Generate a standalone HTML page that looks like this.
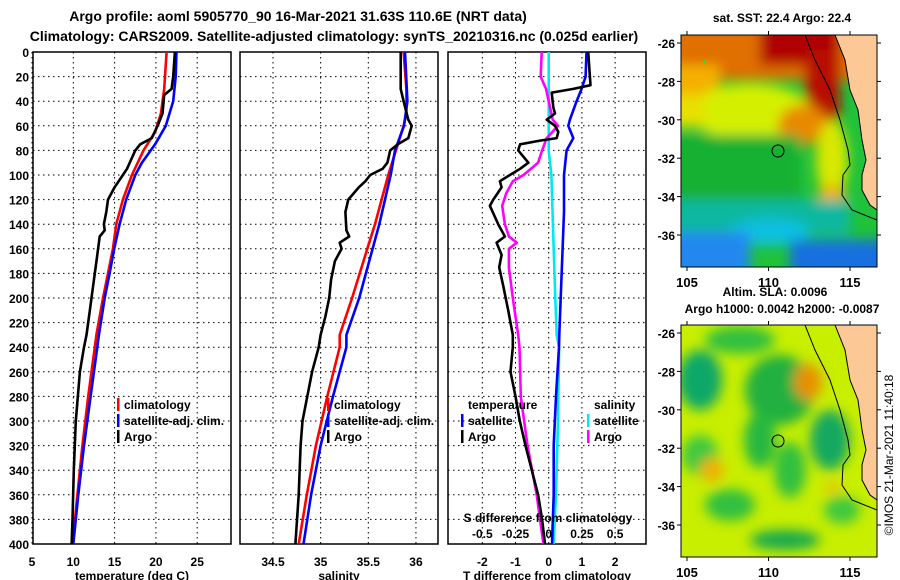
<!DOCTYPE html>
<html><head><meta charset="utf-8">
<style>
html,body{margin:0;padding:0;background:#fff;}
svg{display:block;font-family:"Liberation Sans",Arial,sans-serif;font-weight:bold;}
</style></head>
<body>
<svg id="fig" width="900" height="580" viewBox="0 0 900 580" xmlns="http://www.w3.org/2000/svg">
<defs>
<filter id="blur6" x="-20%" y="-20%" width="140%" height="140%"><feGaussianBlur stdDeviation="6"/></filter>
<clipPath id="clipTop"><rect x="681" y="35" width="196" height="232"/></clipPath>
<clipPath id="clipBot"><rect x="681" y="325" width="196" height="232"/></clipPath>
</defs>
<text x="298" y="21" font-size="14" text-anchor="middle">Argo profile: aoml 5905770_90 16-Mar-2021 31.63S 110.6E (NRT data)</text>
<text x="334" y="41" font-size="14" text-anchor="middle">Climatology: CARS2009. Satellite-adjusted climatology: synTS_20210316.nc (0.025d earlier)</text>

<!-- top map -->
<g clip-path="url(#clipTop)">
<rect x="681" y="35" width="196" height="232" fill="#20c23a"/>
<g filter="url(#blur6)">
<rect x="660" y="15" width="240" height="65" fill="#e07000"/>
<rect x="760" y="15" width="80" height="50" fill="#b00000"/>
<rect x="805" y="50" width="35" height="70" fill="#b81000"/>
<rect x="660" y="65" width="60" height="40" fill="#f4b000"/>
<ellipse cx="750" cy="112" rx="62" ry="28" fill="#d4f000"/>
<rect x="660" y="95" width="45" height="32" fill="#e8e000"/>
<ellipse cx="803" cy="125" rx="25" ry="20" fill="#e88a00"/>
<ellipse cx="832" cy="160" rx="16" ry="40" fill="#d8e800"/>
<ellipse cx="832" cy="200" rx="14" ry="16" fill="#f0b000"/>
<rect x="660" y="135" width="140" height="70" fill="#18b030"/>
<rect x="660" y="200" width="190" height="35" fill="#10b8a0"/>
<ellipse cx="770" cy="232" rx="40" ry="14" fill="#10c0e0"/>
<rect x="660" y="232" width="90" height="50" fill="#2088f0"/>
<rect x="790" y="240" width="100" height="40" fill="#1870e0"/>
</g>
<rect x="703" y="60" width="3" height="3" fill="#30e030"/>
<polygon points="835,35 845,60 850,90 858,110 862,140 866,160 862,175 862,190 870,205 877,210 877,35" fill="#fcc896"/>
<polyline points="805,35 815,60 830,90 840,120 848,150 850,165 843,175 842,195 852,210 877,220" fill="none" stroke="#000" stroke-width="1"/>
<polyline points="835,35 845,60 850,90 858,110 862,140 866,160 862,175 862,190 870,205 877,210" fill="none" stroke="#000" stroke-width="1"/>
<circle cx="778" cy="151" r="6" fill="none" stroke="#000" stroke-width="1"/>
</g>
<rect x="681" y="35" width="196" height="232" fill="none" stroke="#000" stroke-width="1"/>
<text x="782" y="22" font-size="12" text-anchor="middle">sat. SST: 22.4 Argo: 22.4</text>

<!-- bottom map -->
<g clip-path="url(#clipBot)">
<rect x="681" y="325" width="196" height="232" fill="#c8ee00"/>
<g filter="url(#blur6)">
<ellipse cx="740" cy="340" rx="35" ry="14" fill="#30c040"/>
<ellipse cx="700" cy="380" rx="22" ry="30" fill="#10a868"/>
<ellipse cx="780" cy="390" rx="35" ry="35" fill="#20b040"/>
<ellipse cx="760" cy="440" rx="16" ry="28" fill="#28b840"/>
<ellipse cx="790" cy="470" rx="16" ry="28" fill="#30c040"/>
<ellipse cx="830" cy="440" rx="20" ry="30" fill="#18a860"/>
<ellipse cx="700" cy="455" rx="18" ry="20" fill="#40c840"/>
<ellipse cx="730" cy="505" rx="25" ry="16" fill="#30c040"/>
<ellipse cx="785" cy="540" rx="35" ry="10" fill="#18a850"/>
<ellipse cx="842" cy="510" rx="18" ry="14" fill="#40c840"/>
<ellipse cx="808" cy="382" rx="14" ry="18" fill="#e89000"/>
<ellipse cx="712" cy="470" rx="12" ry="12" fill="#f0b000"/>
<ellipse cx="833" cy="488" rx="8" ry="6" fill="#f0c000"/>
</g>
<polygon points="835,325 845,350 850,380 858,400 862,430 866,450 862,465 862,480 870,495 877,500 877,325" fill="#fcc896"/>
<polyline points="805,325 815,350 830,380 840,410 848,440 850,455 843,465 842,485 852,500 877,510" fill="none" stroke="#000" stroke-width="1"/>
<polyline points="835,325 845,350 850,380 858,400 862,430 866,450 862,465 862,480 870,495 877,500" fill="none" stroke="#000" stroke-width="1"/>
<circle cx="778" cy="441" r="6" fill="none" stroke="#000" stroke-width="1"/>
</g>
<rect x="681" y="325" width="196" height="232" fill="none" stroke="#000" stroke-width="1"/>
<text x="775" y="296" font-size="12" text-anchor="middle">Altim. SLA: 0.0096</text>
<text x="782" y="313" font-size="12" text-anchor="middle">Argo h1000: 0.0042 h2000: -0.0087</text>
<text x="0" y="0" font-size="12" font-weight="normal" text-anchor="middle" transform="translate(893,455) rotate(-90)">©IMOS 21-Mar-2021 11:40:18</text>
<g id="maps-axes"></g>
<g id="panels"></g>
</svg>
<script>
// ---------- data ----------
const depthTick = [0,20,40,60,80,100,120,140,160,180,200,220,240,260,280,300,320,340,360,380,400];
const tempTicks = [5,10,15,20,25];
const salTicks = [34.5,35,35.5,36];
const tdiffTicks = [-2,-1,0,1,2];
const sdiffTicks = [-0.5,-0.25,0,0.25,0.5];
const sdiffTickLabels = ["-0.5","-0.25","0","0.25","0.5"];
const latTicks = [-26,-28,-30,-32,-34,-36];
const lonTicks = [105,110,115];

const argoTDepth = [0,20,30,35,50,60,70,75,80,95,100,110,120,130,140,145,150,165,180,200,220,230,240,260,300,340,380,400];
const argoT =      [22.3,22.1,21.9,21.0,20.8,20.2,19.5,18.1,17.5,16.5,16.0,15.0,14.2,14.0,13.7,13.8,13.2,12.9,12.6,12.2,11.8,11.6,11.3,10.8,10.3,10.06,9.9,9.8];
const climTDepth = [0,30,50,65,80,100,120,140,160,180,200,230,240,280,320,360,400];
const climT =      [21.3,21.0,20.6,19.9,18.5,17.1,16.0,15.2,14.8,14.2,13.6,12.8,12.6,11.8,11.1,10.5,9.9];
const satTDepth =  [0,20,40,60,75,90,100,120,140,160,180,200,230,240,280,320,360,400];
const satT =       [22.5,22.4,22.1,21.2,19.9,18.3,17.5,16.4,15.6,14.95,14.4,13.8,13.1,12.9,12.1,11.3,10.6,10.0];

const argoSDepth = [0,30,40,55,60,70,75,80,90,95,100,105,110,120,130,145,150,155,160,170,185,200,215,230,240,260,280,300,320,360,400];
const argoS =      [35.84,35.84,35.87,35.92,35.955,35.92,35.81,35.73,35.70,35.65,35.52,35.47,35.40,35.29,35.26,35.27,35.30,35.20,35.22,35.15,35.11,35.09,35.05,35.0,34.98,34.91,34.86,34.81,34.79,34.77,34.735];
const climSDepth = [0,30,50,60,75,100,120,140,160,180,200,230,240,280,320,360,400];
const climS =      [35.87,35.90,35.90,35.87,35.81,35.71,35.64,35.57,35.49,35.41,35.33,35.20,35.20,35.07,34.95,34.855,34.77];
const satSDepth =  [0,40,60,80,100,120,140,160,180,200,230,240,280,320,360,400];
const satS =       [35.885,35.91,35.875,35.78,35.735,35.675,35.615,35.545,35.475,35.405,35.27,35.27,35.13,35.0,34.9,34.82];

const argoTdDepth = [0,20,27,30,33,45,50,55,60,65,70,72,75,80,90,95,100,105,110,120,125,140,150,155,165,175,190,210,230,240,260,280,300,320,340,360,380,400];
const argoTd =      [1.19,1.24,1.26,0.74,0.09,0.14,0.19,-0.06,0.19,0.29,0.24,-0.26,-0.86,-0.92,-0.61,-0.86,-1.17,-1.47,-1.42,-1.67,-1.77,-1.52,-1.32,-1.57,-1.42,-1.49,-1.37,-1.22,-1.08,-1.08,-1.15,-1.0,-0.87,-0.70,-0.51,-0.32,-0.20,-0.11];
const satTdDepth =  [0,20,30,40,55,60,70,80,100,130,160,200,230,240,280,320,360,400];
const satTd =       [1.14,1.11,0.99,0.84,0.64,0.59,0.74,0.54,0.46,0.46,0.42,0.36,0.32,0.31,0.22,0.15,0.15,0.10];
const argoSdDepth = [0,20,30,40,55,60,70,80,90,100,105,115,125,140,150,155,160,175,200,230,240,280,320,360,400];
const argoSd =      [-0.053,-0.06,-0.02,0,0.03,0.07,-0.015,-0.05,-0.08,-0.19,-0.27,-0.32,-0.35,-0.33,-0.30,-0.24,-0.30,-0.30,-0.27,-0.23,-0.22,-0.21,-0.16,-0.09,-0.04];
const satSdDepth =  [0,40,80,100,150,200,230,240,300,360,400];
const satSd =       [0,0,0,0.02,0.035,0.05,0.06,0.078,0.07,0.055,0.037];

// ---------- drawing ----------
const NS = "http://www.w3.org/2000/svg";
const root = document.getElementById('panels');
function mk(tag, attrs, parent){
  const e = document.createElementNS(NS, tag);
  for (const k in attrs) e.setAttribute(k, attrs[k]);
  (parent||root).appendChild(e);
  return e;
}
const Y0 = 52, Y1 = 544;
function yScale(d){ return Y0 + (d/400)*(Y1-Y0); }
const P1 = {x0:33,x1:231, v0:5+(33-32)/8.26, v1:5+(231-32)/8.26};
const P2 = {x0:240,x1:438, v0:34.5+(240-273)/95.3, v1:34.5+(438-273)/95.3};
const P3 = {x0:448,x1:646, v0:(448-548.7)/33.2, v1:(646-548.7)/33.2};
function xs(p){ return v => p.x0 + (v-p.v0)/(p.v1-p.v0)*(p.x1-p.x0); }
const xT = xs(P1), xS = xs(P2), xTd = xs(P3);
const xSd = v => xTd(v*4);

function panel(p, name, ticks, xf, labels, xlabel){
  const g = mk('g', {});
  
  
  depthTick.forEach((d,i)=>{
    if (i===0 || i===depthTick.length-1) return;
    const l = mk('line',{x1:p.x0,x2:p.x1,y1:yScale(d),y2:yScale(d),stroke:'#000','stroke-width':1,'stroke-dasharray':'1.5,3.5'},g);
    
    
  });
  ticks.forEach((t,i)=>{
    const x = xf(t);
    const l = mk('line',{x1:x,x2:x,y1:Y0,y2:Y1,stroke:'#000','stroke-width':1,'stroke-dasharray':'1.5,3.5'},g);
    
    
    const tx = mk('text',{x:x,y:566,'font-size':12,'text-anchor':'middle'},g);
    
    
    tx.textContent = labels ? labels[i] : String(t);
  });
  const fr = mk('rect',{x:p.x0,y:Y0,width:p.x1-p.x0,height:Y1-Y0,fill:'none',stroke:'#000','stroke-width':1.5},g);
  
  
  const xl = mk('text',{x:(p.x0+p.x1)/2,y:580,'font-size':12,'text-anchor':'middle'},g);
  
  
  xl.textContent = xlabel;
  return g;
}
function series(name, depths, vals, xf, color){
  const pts = depths.map((d,i)=> xf(vals[i]).toFixed(1)+','+yScale(d).toFixed(1)).join(' ');
  const pl = mk('polyline',{points:pts,fill:'none',stroke:color,'stroke-width':2.6,'stroke-linejoin':'round'});
  
  
}
function legendItem(name, x, y, color, label){
  const r = mk('rect',{x:x,y:y-11,width:2.5,height:13,fill:color});
  
  
  const t = mk('text',{x:x+7,y:y,'font-size':12});
  
  
  t.textContent = label;
}

panel(P1,'temperature-panel',tempTicks,xT,null,'temperature (deg C)');
panel(P2,'salinity-panel',salTicks,xS,null,'salinity');
panel(P3,'difference-panel',tdiffTicks,xTd,null,'T difference from climatology');

depthTick.forEach(d=>{
  const t = mk('text',{x:29,y:yScale(d)+5,'font-size':12,'text-anchor':'end'});
  
  
  t.textContent = d;
});

series('temp-climatology-line', climTDepth, climT, xT, '#ff0000');
series('temp-satellite-line', satTDepth, satT, xT, '#0000ff');
series('temp-argo-line', argoTDepth, argoT, xT, '#000000');
series('sal-climatology-line', climSDepth, climS, xS, '#ff0000');
series('sal-satellite-line', satSDepth, satS, xS, '#0000ff');
series('sal-argo-line', argoSDepth, argoS, xS, '#000000');
series('sdiff-satellite-line', satSdDepth, satSd, xSd, '#00e8f0');
series('sdiff-argo-line', argoSdDepth, argoSd, xSd, '#ff00ff');
series('tdiff-satellite-line', satTdDepth, satTd, xTd, '#0000ff');
series('tdiff-argo-line', argoTdDepth, argoTd, xTd, '#000000');

legendItem('legend-climatology', 117, 409, '#ff0000', 'climatology');
legendItem('legend-satellite-adj', 117, 425, '#0000ff', 'satellite-adj. clim.');
legendItem('legend-argo', 117, 441, '#000000', 'Argo');
legendItem('legend-sal-climatology', 327, 409, '#ff0000', 'climatology');
legendItem('legend-sal-satellite-adj', 327, 425, '#0000ff', 'satellite-adj. clim.');
legendItem('legend-sal-argo', 327, 441, '#000000', 'Argo');
(function(){
  const t1 = mk('text',{x:468,y:409,'font-size':12});
  
  
  t1.textContent = 'temperature';
  const t2 = mk('text',{x:594,y:409,'font-size':12});
  
  
  t2.textContent = 'salinity';
  const t3 = mk('text',{x:548,y:522,'font-size':12,'text-anchor':'middle'});
  
  
  t3.textContent = 'S difference from climatology';
  sdiffTicks.forEach((v,i)=>{
    const t = mk('text',{x:xSd(v),y:538,'font-size':12,'text-anchor':'middle'});
    
    
    t.textContent = sdiffTickLabels[i];
  });
})();
legendItem('legend-t-satellite', 461, 425, '#0000ff', 'satellite');
legendItem('legend-t-argo', 461, 441, '#000000', 'Argo');
legendItem('legend-s-satellite', 587, 425, '#00e8f0', 'satellite');
legendItem('legend-s-argo', 587, 441, '#ff00ff', 'Argo');

// map axes
const ma = document.getElementById('maps-axes');
function latY(lat, top){ return top + 8 + (-26-lat)*19.2; }
function lonX(lon){ return 687 + (lon-105)*16.3; }
[[35,'top'],[325,'bottom']].forEach(([top,nm])=>{
  latTicks.forEach(l=>{
    const y = latY(l, top);
    const t = mk('text',{x:675,y:y+5,'font-size':12,'text-anchor':'end'},ma);
    
    
    t.textContent = l;
    mk('line',{x1:677,x2:681,y1:y,y2:y,stroke:'#000'},ma);
    mk('line',{x1:877,x2:881,y1:y,y2:y,stroke:'#000'},ma);
  });
  lonTicks.forEach(l=>{
    const x = lonX(l);
    const t = mk('text',{x:x,y:top+252,'font-size':13,'text-anchor':'middle'},ma);
    
    
    t.textContent = l;
    mk('line',{x1:x,x2:x,y1:top-4,y2:top,stroke:'#000'},ma);
    mk('line',{x1:x,x2:x,y1:top+232,y2:top+236,stroke:'#000'},ma);
  });
});
</script>
</body></html>
